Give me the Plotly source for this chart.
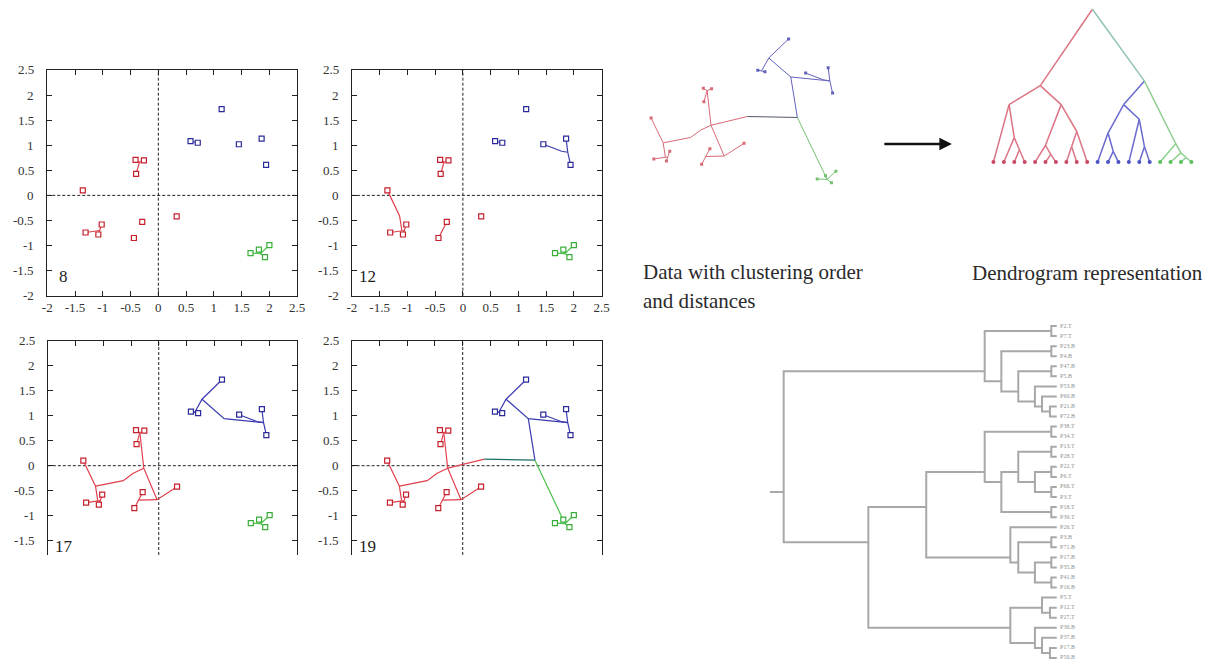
import plotly.graph_objects as go

W, H = 1229, 664
SERIF = "Liberation Serif, Times New Roman, serif"

# ---- the twenty observations, split by final cluster ----
RED_X = [-1.36, -0.41, -0.26, -0.40, -1.31, -1.02, -1.08, -0.29, -0.44, 0.33]
RED_Y = [0.10, 0.71, 0.70, 0.43, -0.74, -0.58, -0.78, -0.53, -0.85, -0.42]
BLUE_X = [1.14, 0.58, 0.71, 1.45, 1.86, 1.94]
BLUE_Y = [1.72, 1.08, 1.05, 1.02, 1.13, 0.61]
GREEN_X = [1.66, 1.81, 2.00, 1.92]
GREEN_Y = [-1.15, -1.08, -0.99, -1.23]

# ---- agglomeration paths: merge step, colour key, polyline through the junction ----
MERGE_STEP = [1, 2, 3, 4, 5, 6, 7, 8, 9, 10, 11, 12, 13, 14, 15, 16, 17, 18, 18, 18, 19]
MERGE_COLOR = ["red", "red", "red", "red", "green", "green", "green", "blue", "blue",
               "blue", "red", "red", "blue", "red", "blue", "red", "red", "red", "teal",
               "blue", "green"]
MERGE_PATH_X = [
    [-0.41, -0.34, -0.26], [-0.34, -0.40], [-1.02, -1.06, -1.08], [-1.31, -1.06],
    [1.81, 1.84, 1.92], [1.66, 1.84], [1.84, 2.00], [0.58, 0.71],
    [1.86, 1.89, 1.94], [1.45, 1.62, 1.78, 1.89], [-1.36, -1.14, -1.10],
    [-0.44, -0.37, -0.29], [1.14, 0.78, 0.65], [-0.37, -0.03, 0.33],
    [0.78, 1.18, 1.89], [-0.34, -0.27, -0.03], [-1.14, -0.64, -0.46, -0.27],
    [-0.27, 0.39], [0.39, 1.30], [1.18, 1.30], [1.30, 1.84],
]
MERGE_PATH_Y = [
    [0.71, 0.66, 0.70], [0.66, 0.43], [-0.58, -0.70, -0.78], [-0.74, -0.70],
    [-1.08, -1.16, -1.23], [-1.15, -1.16], [-1.16, -0.99], [1.08, 1.05],
    [1.13, 0.86, 0.61], [1.02, 0.94, 0.88, 0.86], [0.10, -0.41, -0.70],
    [-0.85, -0.69, -0.53], [1.72, 1.33, 1.07], [-0.69, -0.68, -0.42],
    [1.33, 0.94, 0.86], [0.66, -0.05, -0.68], [-0.41, -0.30, -0.15, -0.05],
    [-0.05, 0.13], [0.13, 0.11], [0.94, 0.11], [0.11, -1.16],
]
PANEL_STEPS = [8, 12, 17, 19]
AXIS_TICKS = [-2, -1.5, -1, -0.5, 0, 0.5, 1, 1.5, 2, 2.5]
AXIS_TICK_TEXT = ["-2", "-1.5", "-1", "-0.5", "0", "0.5", "1", "1.5", "2", "2.5"]

# ---- triangular dendrogram of the same twenty points ----
TRI_LEAF_GROUP = ["red"] * 10 + ["blue"] * 6 + ["green"] * 4
TRI_CHILD_A = [2, 1, 0, 5, 4, 7, 25, 24, 22, 11, 10, 14, 13, 30, 18, 17, 16, 33, 28]
TRI_CHILD_B = [3, 20, 21, 6, 23, 8, 9, 26, 27, 12, 29, 15, 31, 32, 19, 34, 35, 36, 37]
TRI_HEIGHT = [0.08, 0.16, 0.376, 0.05, 0.11, 0.10, 0.20, 0.376, 0.50, 0.07, 0.19, 0.10,
              0.28, 0.376, 0.03, 0.06, 0.12, 0.53, 1.00]

# ---- horizontal dendrogram of labelled samples ----
DEN_LABELS = ["P2.T", "P7.T", "P23.B", "P4.B", "P47.B", "P5.B", "P53.B", "P60.B",
              "P21.B", "P72.B", "P38.T", "P34.T", "P13.T", "P28.T", "P22.T", "P6.T",
              "P66.T", "P3.T", "P18.T", "P39.T", "P26.T", "P3.B", "P71.B", "P17.B",
              "P35.B", "P41.B", "P16.B", "P5.T", "P12.T", "P27.T", "P36.B", "P37.B",
              "P17.B", "P50.B"]
DEN_CHILD_A = [0, 2, 4, 8, 7, 6, 36, 35, 34, 10, 12, 14, 16, 45, 44, 18, 48, 43, 21,
               23, 25, 53, 52, 20, 51, 28, 27, 32, 31, 30, 60, 58, 42]
DEN_CHILD_B = [1, 3, 5, 9, 37, 38, 39, 40, 41, 11, 13, 15, 17, 46, 47, 19, 49, 50, 22,
               24, 26, 54, 55, 56, 57, 29, 59, 33, 61, 62, 63, 64, 65]
DEN_HEIGHT = [0.02, 0.02, 0.02, 0.025, 0.054, 0.08, 0.141, 0.203, 0.264, 0.02, 0.02,
              0.02, 0.02, 0.08, 0.141, 0.02, 0.203, 0.264, 0.02, 0.02, 0.02, 0.08,
              0.141, 0.17, 0.478, 0.025, 0.054, 0.025, 0.054, 0.08, 0.17, 0.69, 1.0]

PANEL_LINE = {"red": "#e0404c", "blue": "#3b3bb0", "green": "#4cc04c", "teal": "#1e6e6a"}
PANEL_MARK = {"red": "#c4202c", "blue": "#2a2a9a", "green": "#3aae3a"}
MINI_LINE = {"red": "#d86a76", "blue": "#6262bc", "green": "#74c474", "teal": "#505868"}
TRI_LINE = {"red": "#dc7484", "blue": "#6a6ad0", "green": "#8ed08e", "mixed": "#90c4b0"}
TRI_DOT = {"red": "#c84868", "blue": "#4a52c4", "green": "#5cc05c"}
DEN_GRAY = "#a8a8a8"


def dom_x(a, b):
    return [a / W, b / W]


def dom_y(top, bottom):
    return [1 - bottom / H, 1 - top / H]


def ax_id(i):
    return "" if i == 1 else str(i)


fig = go.Figure()
CLUSTERS = [(RED_X, RED_Y, "red"), (BLUE_X, BLUE_Y, "blue"), (GREEN_X, GREEN_Y, "green")]


def add_tree(xa, ya, upto, line_colors, width, marker):
    for key in ["red", "blue", "green", "teal"]:
        xs, ys = [], []
        for s, c, px, py in zip(MERGE_STEP, MERGE_COLOR, MERGE_PATH_X, MERGE_PATH_Y):
            if s <= upto and c == key:
                xs += px + [None]
                ys += py + [None]
        if xs:
            fig.add_trace(go.Scatter(x=xs, y=ys, mode="lines", xaxis=xa, yaxis=ya,
                                     line=dict(color=line_colors[key], width=width),
                                     hoverinfo="skip", showlegend=False))
    for X, Y, key in CLUSTERS:
        m = dict(marker)
        if "line" in m:
            m["color"] = "white"
            m["line"] = dict(color=PANEL_MARK[key], width=1.2)
        else:
            m["color"] = line_colors[key]
        fig.add_trace(go.Scatter(x=X, y=Y, mode="markers", xaxis=xa, yaxis=ya,
                                 marker=m, hoverinfo="skip", showlegend=False))


# ---- four snapshot panels ----
panel_boxes = [
    ((42.7, 295.3), (70, 295.7), [-2, 2.5], False),
    ((350.6, 603.0), (70, 295.7), [-2, 2.5], False),
    ((43.3, 295.5), (340.7, 555), [-1.786, 2.5], True),
    ((350.3, 603.0), (340.7, 555), [-1.786, 2.5], True),
]
label_pos = [(59, 276), (366, 276), (59.5, 546), (366, 546)]
tickfont = dict(family=SERIF, size=13, color="#333")
layout_axes = {}
for i, (step, (bx, by, yr, cut)) in enumerate(zip(PANEL_STEPS, panel_boxes), start=1):
    xa, ya = "x" + ax_id(i), "y" + ax_id(i)
    add_tree(xa, ya, step, PANEL_LINE, 1.2,
             dict(symbol="square", size=5, line=dict(width=1)))
    xaxis = dict(domain=dom_x(*bx), range=[-2, 2.5], anchor=ya, tickvals=AXIS_TICKS,
                 ticktext=AXIS_TICK_TEXT, ticks="inside", ticklen=5, showline=True,
                 linecolor="#222", linewidth=1, showgrid=False, zeroline=False,
                 tickfont=tickfont, tickcolor="#222", fixedrange=True)
    if cut:
        xaxis.update(side="top", showticklabels=False, mirror=False)
    else:
        xaxis.update(mirror="ticks")
    yaxis = dict(domain=dom_y(*by), range=yr, anchor=xa, tickvals=AXIS_TICKS,
                 ticks="inside", ticklen=5, showline=True, showticklabels=False,
                 mirror="ticks", linecolor="#222", linewidth=1, showgrid=False,
                 zeroline=False, tickcolor="#222", fixedrange=True)
    layout_axes["xaxis" + ax_id(i)] = xaxis
    layout_axes["yaxis" + ax_id(i)] = yaxis
    # y tick labels set a little away from the frame
    for v, t in zip(AXIS_TICKS, AXIS_TICK_TEXT):
        if yr[0] <= v <= yr[1]:
            fig.add_annotation(x=(bx[0] - 11) / W, y=v, xref="paper", yref=ya, text=t,
                               showarrow=False, xanchor="right", yanchor="middle",
                               font=tickfont)
    # dashed reference axes through the origin
    fig.add_shape(type="line", xref=xa, yref=f"{ya} domain", x0=0, x1=0, y0=0, y1=1,
                  line=dict(color="#222", width=1, dash="3px,2px"), layer="below")
    fig.add_shape(type="line", xref=f"{xa} domain", yref=ya, x0=0, x1=1, y0=0, y1=0,
                  line=dict(color="#222", width=1, dash="3px,2px"), layer="below")
    lx, ly = label_pos[i - 1]
    fig.add_annotation(x=lx / W, y=1 - ly / H, xref="paper", yref="paper",
                       text=str(step), showarrow=False, xanchor="center",
                       yanchor="middle", font=dict(family=SERIF, size=17, color="#222"))

# ---- small overview of the complete clustering ----
add_tree("x5", "y5", PANEL_STEPS[-1], MINI_LINE, 1.0, dict(symbol="square", size=3))
layout_axes["xaxis5"] = dict(domain=dom_x(628.5, 862), range=[-1.8, 2.4], visible=False,
                             anchor="y5", fixedrange=True)
layout_axes["yaxis5"] = dict(domain=dom_y(25.3, 196), range=[-1.5, 2.0], visible=False,
                             anchor="x5", fixedrange=True)

# ---- triangular dendrogram ----
n_tri = len(TRI_LEAF_GROUP)
tri_leaves = {i: [i] for i in range(n_tri)}
tri_h = {i: 0.0 for i in range(n_tri)}
for k, (a, b, h) in enumerate(zip(TRI_CHILD_A, TRI_CHILD_B, TRI_HEIGHT)):
    node = n_tri + k
    tri_leaves[node] = tri_leaves[a] + tri_leaves[b]
    tri_h[node] = h
tri_x = {n: sum(v) / len(v) for n, v in tri_leaves.items()}


def tri_group(n):
    groups = {TRI_LEAF_GROUP[i] for i in tri_leaves[n]}
    return groups.pop() if len(groups) == 1 else "mixed"


tri_segments = {k: ([], []) for k in TRI_LINE}
for k, (a, b) in enumerate(zip(TRI_CHILD_A, TRI_CHILD_B)):
    node = n_tri + k
    for c in (a, b):
        xs, ys = tri_segments[tri_group(c)]
        xs += [tri_x[node], tri_x[c], None]
        ys += [tri_h[node], tri_h[c], None]
for key, (xs, ys) in tri_segments.items():
    fig.add_trace(go.Scatter(x=xs, y=ys, mode="lines", xaxis="x6", yaxis="y6",
                             line=dict(color=TRI_LINE[key], width=1.5),
                             hoverinfo="skip", showlegend=False))
fig.add_trace(go.Scatter(x=list(range(n_tri)), y=[0] * n_tri, mode="markers",
                         xaxis="x6", yaxis="y6",
                         marker=dict(size=4, color=[TRI_DOT[g] for g in TRI_LEAF_GROUP]),
                         hoverinfo="skip", showlegend=False))
layout_axes["xaxis6"] = dict(domain=dom_x(990, 1210), range=[-0.855, 20.04], visible=False,
                             anchor="y6", fixedrange=True)
layout_axes["yaxis6"] = dict(domain=dom_y(5, 170), range=[-0.052, 1.028], visible=False,
                             anchor="x6", fixedrange=True)

# ---- horizontal dendrogram with sample labels ----
n_den = len(DEN_LABELS)
den_leaves = {i: [i] for i in range(n_den)}
den_h = {i: 0.0 for i in range(n_den)}
for k, (a, b, h) in enumerate(zip(DEN_CHILD_A, DEN_CHILD_B, DEN_HEIGHT)):
    node = n_den + k
    den_leaves[node] = den_leaves[a] + den_leaves[b]
    den_h[node] = h
den_y = {n: sum(v) / len(v) for n, v in den_leaves.items()}
dxs, dys = [], []
for k, (a, b) in enumerate(zip(DEN_CHILD_A, DEN_CHILD_B)):
    node = n_den + k
    dxs += [den_h[a], den_h[node], den_h[node], den_h[b], None]
    dys += [den_y[a], den_y[a], den_y[b], den_y[b], None]
root = n_den + len(DEN_CHILD_A) - 1
dxs += [den_h[root], den_h[root] + 0.05, None]
dys += [den_y[root], den_y[root], None]
fig.add_trace(go.Scatter(x=dxs, y=dys, mode="lines", xaxis="x7", yaxis="y7",
                         line=dict(color=DEN_GRAY, width=2),
                         hoverinfo="skip", showlegend=False))
fig.add_trace(go.Scatter(x=[-0.012] * n_den, y=list(range(n_den)), mode="text",
                         text=DEN_LABELS, textposition="middle right",
                         textfont=dict(family=SERIF, size=6, color="#909090"),
                         xaxis="x7", yaxis="y7", hoverinfo="skip", showlegend=False))
layout_axes["xaxis7"] = dict(domain=dom_x(770, 1100), range=[1.0616, -0.134], visible=False,
                             anchor="y7", fixedrange=True)
layout_axes["yaxis7"] = dict(domain=dom_y(320, 664), range=[33.6, -0.6], visible=False,
                             anchor="x7", fixedrange=True)

# ---- captions and arrow ----
caption_font = dict(family=SERIF, size=21, color="#2a2a2a")
fig.add_annotation(x=643 / W, y=1 - 272 / H, xref="paper", yref="paper",
                   text="Data with clustering order", showarrow=False,
                   xanchor="left", yanchor="middle", font=caption_font)
fig.add_annotation(x=643 / W, y=1 - 301 / H, xref="paper", yref="paper",
                   text="and distances", showarrow=False,
                   xanchor="left", yanchor="middle", font=caption_font)
fig.add_annotation(x=975 / W, y=1 - 273 / H, xref="paper", yref="paper",
                   text="Dendrogram representation", showarrow=False,
                   xanchor="left", yanchor="middle", font=caption_font)
fig.add_annotation(x=957 / W, y=1 - 144 / H, ax=-69, ay=0,
                   xref="paper", yref="paper", axref="pixel", ayref="pixel",
                   text="", showarrow=True, arrowhead=2, arrowsize=1,
                   arrowwidth=2.5, arrowcolor="#111")

fig.update_layout(width=W, height=H, margin=dict(l=0, r=0, t=0, b=0),
                  paper_bgcolor="white", plot_bgcolor="white", showlegend=False,
                  **layout_axes)
fig.write_html("out.html")
